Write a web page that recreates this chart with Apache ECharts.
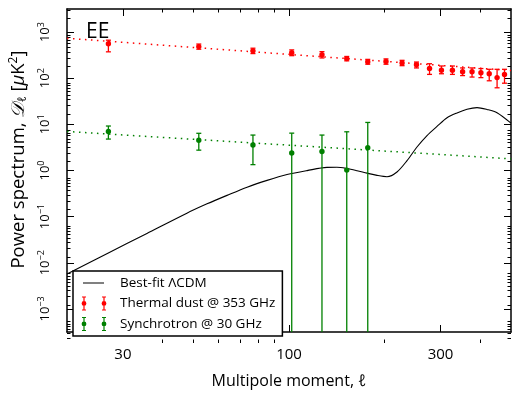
<!DOCTYPE html>
<html>
<head>
<meta charset="utf-8">
<script src="https://cdn.jsdelivr.net/npm/echarts@6/dist/echarts.min.js"></script>
<style>
html,body{margin:0;padding:0;background:#fff;}
#c{width:512px;height:394px;}
</style>
</head>
<body>
<div id="c"></div>
<script>
// ---- data ----
const dustEll = [27, 52, 77, 102, 127, 152, 177, 202, 227, 252, 277, 302, 327, 352, 377, 402, 427, 452, 477];
const dustD   = [560, 484, 392, 356, 323, 266, 227, 230, 213, 196, 162, 149, 149, 138, 138, 131, 125, 103, 121];
const dustLo  = [373, 425, 342, 308, 275, 238, 201, 201, 187, 167, 121, 125, 121, 114, 106, 103, 88, 62, 78];
const dustHi  = [667, 550, 447, 411, 377, 296, 256, 262, 244, 224, 206, 184, 184, 167, 167, 162, 156, 156, 156];

const syncEll = [27, 52, 77, 102, 127, 152, 177];
const syncD   = [7.0, 4.54, 3.57, 2.39, 2.58, 1.02, 3.13];
const syncLo  = [4.8, 2.76, 1.34, 0, 0, 0, 0];   // 0 = lower bound below zero
const syncHi  = [9.2, 6.4, 5.86, 6.45, 5.86, 6.9, 11.0];

const dustFitEll = [20, 500];
const dustFitD   = [734, 147];
const syncFitEll = [20, 500];
const syncFitD   = [7.0, 1.79];

const lcdmEll = [20, 26.7, 35.7, 47.7, 55.2, 63.8, 73.8, 85.3, 98.6, 114, 131.7, 141.6, 152.3, 163.8, 176.1, 189.3, 203.5, 218.8, 235.3, 252.9, 272, 292.4, 314.5, 338.1, 363.5, 390.9, 420.2, 451.8, 500];
const lcdmD   = [0.00571, 0.01574, 0.04335, 0.1189, 0.1892, 0.2891, 0.4355, 0.611, 0.817, 0.995, 1.167, 1.172, 1.101, 0.990, 0.877, 0.785, 0.734, 0.929, 1.633, 3.23, 5.73, 9.02, 13.87, 17.66, 21.2, 23.0, 21.0, 17.9, 10.6];

const xMajorTicks = [30, 100, 300];
const xMinorTicks = [40, 50, 60, 70, 80, 90, 200, 400];
const yDecades = [-3, -2, -1, 0, 1, 2, 3];
const xRange = [20, 500];
const yRange = [-3.5, 3.5];   // log10 of D

const titleText = 'EE';
const seriesNames = ['Best-fit ΛCDM', 'Thermal dust @ 353 GHz', 'Synchrotron @ 30 GHz'];

// ---- build ----
const lg = Math.log10;
const FONT = 'Open Sans';
const RED = '#ff0000', GREEN = '#008000';

const yMinor = [];
for (let k = -4; k <= 3; k++) for (let m = 2; m <= 9; m++) {
  const v = k + lg(m);
  if (v > yRange[0] && v < yRange[1]) yMinor.push(v);
}

const xMin = lg(xRange[0]), xMax = lg(xRange[1]);
const axisLineStyle = {color: '#000', width: 1.5};
function xAx(grid, pos, major, showLabel) {
  return {
    type: 'value', gridIndex: grid, position: pos, min: xMin, max: xMax,
    axisLine: {show: major, onZero: false, lineStyle: axisLineStyle},
    axisTick: {show: true, inside: true, length: major ? 7 : 3.5,
      customValues: (major ? xMajorTicks : xMinorTicks).map(lg),
      lineStyle: {color: '#000', width: 1}},
    axisLabel: {show: showLabel, customValues: xMajorTicks.map(lg),
      formatter: v => String(Math.round(Math.pow(10, v))),
      fontSize: 15, fontFamily: FONT, color: '#000', margin: 15},
    splitLine: {show: false}
  };
}
function yAx(grid, pos, major, showLabel) {
  return {
    type: 'value', gridIndex: grid, position: pos, min: yRange[0], max: yRange[1],
    axisLine: {show: major, onZero: false, lineStyle: axisLineStyle},
    axisTick: {show: true, inside: true, length: major ? 7 : 3.5,
      customValues: major ? yDecades : yMinor,
      lineStyle: {color: '#000', width: 1}},
    axisLabel: {show: showLabel, customValues: yDecades, rotate: 90, margin: 14,
      formatter: v => { const e = Math.round(v); return '{b|10}{s|' + (e < 0 ? '−' + (-e) : e) + '}'; },
      rich: {
        b: {fontSize: 13, fontFamily: FONT, color: '#000', lineHeight: 16},
        s: {fontSize: 9, fontFamily: FONT, color: '#000', lineHeight: 8, verticalAlign: 'top'}
      }},
    splitLine: {show: false}
  };
}

const gridRect = {left: 67, top: 9, right: 1, bottom: 51};

function errSeries(name, color, ell, D, lo, hi) {
  return {
    type: 'custom', name: name, xAxisIndex: 0, yAxisIndex: 0, z: 5,
    itemStyle: {color: color},
    encode: {x: 0, y: 1},
    data: ell.map((l, i) => [lg(l), lg(D[i]), lo[i] > 0 ? lg(lo[i]) : -99, lg(hi[i])]),
    renderItem: function (params, api) {
      const x = api.value(0);
      const c = api.coord([x, api.value(1)]);
      const t = api.coord([x, api.value(3)]);
      const cs = params.coordSys;
      const yb = cs.y + cs.height;
      let by = api.coord([x, api.value(2)])[1];
      const clipped = by > yb;
      if (clipped) by = yb;
      const st = {stroke: color, lineWidth: 1.3};
      const ch = [
        {type: 'line', shape: {x1: c[0], y1: t[1], x2: c[0], y2: by}, style: st},
        {type: 'line', shape: {x1: c[0] - 2.5, y1: t[1], x2: c[0] + 2.5, y2: t[1]}, style: st}
      ];
      if (!clipped) ch.push({type: 'line', shape: {x1: c[0] - 2.5, y1: by, x2: c[0] + 2.5, y2: by}, style: st});
      ch.push({type: 'circle', shape: {cx: c[0], cy: c[1], r: 2.7}, style: {fill: color}});
      return {type: 'group', children: ch};
    }
  };
}

function pairs(xs, ys) { return xs.map((x, i) => [lg(x), lg(ys[i])]); }

// legend icons in a 35 x 14 box
function errBar(cx) {
  return 'M' + (cx - 2) + ',0h4v1h-4z' +
         'M' + (cx - 0.6) + ',0h1.2v14h-1.2z' +
         'M' + (cx - 2) + ',13h4v1h-4z' +
         'M' + (cx - 2.4) + ',7a2.4,2.4 0 1,1 4.8,0a2.4,2.4 0 1,1 -4.8,0z';
}
const errIcon = 'path://M0,0' + errBar(4) + errBar(24) + 'M35,14';
const lineIcon = 'path://M0,0M3,6.5h21v1h-21zM35,14';

const option = {
  animation: false,
  backgroundColor: '#fff',
  title: {text: titleText, left: 81, top: 17,
    textStyle: {fontSize: 21, fontWeight: 'normal', fontFamily: FONT, color: '#000'}},
  grid: [Object.assign({}, gridRect), Object.assign({}, gridRect)],
  xAxis: [
    Object.assign(xAx(0, 'bottom', true, true), {
      name: 'Multipole moment, ℓ', nameLocation: 'middle', nameGap: 41,
      nameTextStyle: {fontSize: 16, fontFamily: FONT, color: '#000'}}),
    xAx(0, 'top', true, false),
    xAx(1, 'bottom', false, false),
    xAx(1, 'top', false, false)
  ],
  yAxis: [
    Object.assign(yAx(0, 'left', true, true), {
      name: 'Power spectrum, {c|𝒟}{sub|ℓ} [{i|μ}K{sup|2}]',
      nameLocation: 'middle', nameGap: 38, nameRotate: 90,
      nameTextStyle: {fontSize: 18.5, fontFamily: FONT, color: '#000', padding: [0, 0, 0, 22],
        rich: {
          c: {fontSize: 18.5, fontFamily: FONT, color: '#000', fontStyle: 'italic', lineHeight: 21},
          i: {fontSize: 18.5, fontFamily: FONT, color: '#000', fontStyle: 'italic', lineHeight: 21},
          sub: {fontSize: 12, fontFamily: FONT, color: '#000', lineHeight: 10, verticalAlign: 'bottom'},
          sup: {fontSize: 12, fontFamily: FONT, color: '#000', lineHeight: 10, verticalAlign: 'top'}
        }}}),
    yAx(0, 'right', true, false),
    yAx(1, 'left', false, false),
    yAx(1, 'right', false, false)
  ],
  legend: {
    left: 73, top: 271, orient: 'vertical',
    itemWidth: 35, itemHeight: 14, itemGap: 6.5,
    padding: [5, 7, 5, 7],
    backgroundColor: '#fff', borderColor: '#000', borderWidth: 1.5, borderRadius: 0,
    textStyle: {fontSize: 13.5, fontFamily: FONT, color: '#000'},
    itemStyle: {borderWidth: 0},
    selectedMode: false,
    data: [
      {name: seriesNames[0], icon: lineIcon},
      {name: seriesNames[1], icon: errIcon},
      {name: seriesNames[2], icon: errIcon}
    ]
  },
  series: [
    {type: 'line', name: 'dust fit', data: pairs(dustFitEll, dustFitD), symbol: 'none', silent: true,
      lineStyle: {color: RED, width: 1.5, type: [1.5, 4.5]}, z: 2},
    {type: 'line', name: 'sync fit', data: pairs(syncFitEll, syncFitD), symbol: 'none', silent: true,
      lineStyle: {color: GREEN, width: 1.5, type: [1.5, 4.5]}, z: 2},
    {type: 'line', name: seriesNames[0], data: pairs(lcdmEll, lcdmD), symbol: 'none',
      smooth: 0.3,
      color: '#000', lineStyle: {color: '#000', width: 1.1}, z: 3},
    errSeries(seriesNames[1], RED, dustEll, dustD, dustLo, dustHi),
    errSeries(seriesNames[2], GREEN, syncEll, syncD, syncLo, syncHi)
  ]
};

const chart = echarts.init(document.getElementById('c'), null, {renderer: 'canvas'});
chart.setOption(option);
</script>
</body>
</html>
